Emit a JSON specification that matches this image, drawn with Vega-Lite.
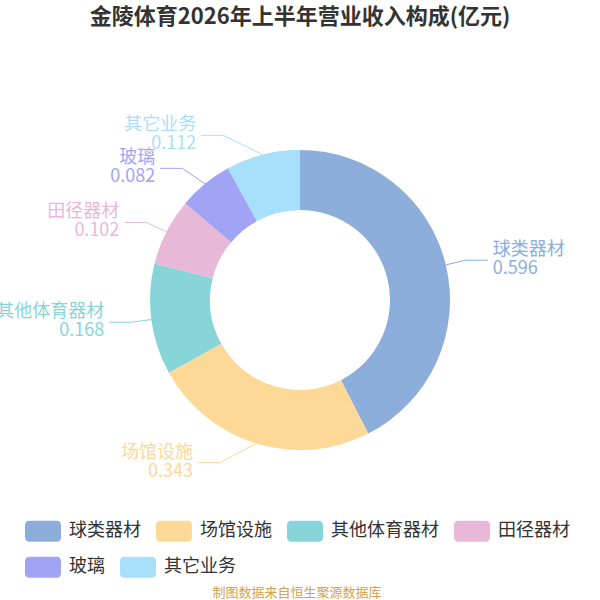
{
  "$schema": "https://vega.github.io/schema/vega-lite/v6.json",
  "width": 600,
  "height": 600,
  "padding": 0,
  "autosize": {"type": "none"},
  "background": "white",
  "title": {
    "text": "金陵体育2026年上半年营业收入构成(亿元)",
    "font": "Noto Sans CJK SC",
    "fontSize": 22,
    "fontWeight": "bold",
    "color": "#333333",
    "anchor": "middle",
    "offset": -29
  },
  "data": {
    "values": [
      {"name": "球类器材", "value": 0.596},
      {"name": "场馆设施", "value": 0.343},
      {"name": "其他体育器材", "value": 0.168},
      {"name": "田径器材", "value": 0.102},
      {"name": "玻璃", "value": 0.082},
      {"name": "其它业务", "value": 0.112}
    ]
  },
  "transform": [
    {"window": [{"op": "row_number", "as": "idx"}]},
    {"joinaggregate": [{"op": "sum", "field": "value", "as": "total"}]},
    {"stack": "value", "groupby": [], "sort": [{"field": "idx"}], "as": ["v0", "v1"]},
    {"calculate": "PI * (datum.v0 + datum.v1) / datum.total", "as": "a"},
    {"calculate": "sin(datum.a) >= 0 ? 1 : -1", "as": "s"},
    {"calculate": "150 * sin(datum.a)", "as": "ex"},
    {"calculate": "150 * cos(datum.a)", "as": "ey"},
    {"calculate": "170 * cos(datum.a)", "as": "by"},
    {"calculate": "datum.s * sqrt(192 * 192 - datum.by * datum.by)", "as": "hx"},
    {"calculate": "datum.hx - datum.s * 22", "as": "bx"},
    {"calculate": "datum.hx + datum.s * 5", "as": "tx"},
    {"calculate": "datum.name + '\\n' + format(datum.value, '.3f')", "as": "lab"}
  ],
  "encoding": {
    "color": {
      "field": "name",
      "type": "nominal",
      "scale": {
        "domain": ["球类器材", "场馆设施", "其他体育器材", "田径器材", "玻璃", "其它业务"],
        "range": ["#8daddb", "#fed897", "#87d5d9", "#e7b8d8", "#a1a4f5", "#a8dffa"]
      },
      "legend": {
        "values": ["球类器材", "场馆设施", "其他体育器材", "田径器材"],
        "orient": "none",
        "legendX": 25,
        "legendY": 513,
        "direction": "horizontal",
        "columns": 4,
        "columnPadding": 15,
        "rowPadding": 0,
        "padding": 0,
        "symbolType": "M-0.78,-0.58 H0.78 A0.22,0.22 0 0 1 1,-0.36 V0.36 A0.22,0.22 0 0 1 0.78,0.58 H-0.78 A0.22,0.22 0 0 1 -1,0.36 V-0.36 A0.22,0.22 0 0 1 -0.78,-0.58 Z",
        "symbolSize": 1296,
        "symbolStrokeWidth": 0,
        "symbolOpacity": 1,
        "labelOffset": 8,
        "labelFont": "Noto Sans CJK SC",
        "labelFontSize": 18,
        "labelColor": "#333333",
        "labelLimit": 0,
        "title": "制图数据来自恒生聚源数据库",
        "titleOrient": "bottom",
        "titleAnchor": "middle",
        "titlePadding": 45,
        "titleFont": "Noto Sans CJK SC",
        "titleFontSize": 13,
        "titleFontWeight": "normal",
        "titleColor": "#d4a24c"
      }
    }
  },
  "layer": [
    {
      "mark": {"type": "arc", "innerRadius": 90, "outerRadius": 150},
      "encoding": {
        "theta": {"field": "v1", "type": "quantitative", "scale": {"nice": false, "zero": true}},
        "theta2": {"field": "v0"}
      }
    },
    {
      "transform": [{"filter": "datum.idx > 4"}],
      "mark": {"type": "arc", "innerRadius": 90, "outerRadius": 150},
      "encoding": {
        "theta": {"field": "v1", "type": "quantitative", "scale": {"nice": false, "zero": true}},
        "theta2": {"field": "v0"},
        "fill": {
          "field": "name",
          "type": "nominal",
          "scale": {"domain": ["玻璃", "其它业务"], "range": ["#a1a4f5", "#a8dffa"]},
          "legend": {
            "orient": "none",
            "legendX": 25,
            "legendY": 549,
            "direction": "horizontal",
            "columns": 2,
            "columnPadding": 15,
            "padding": 0,
            "symbolType": "M-0.78,-0.58 H0.78 A0.22,0.22 0 0 1 1,-0.36 V0.36 A0.22,0.22 0 0 1 0.78,0.58 H-0.78 A0.22,0.22 0 0 1 -1,0.36 V-0.36 A0.22,0.22 0 0 1 -0.78,-0.58 Z",
            "symbolSize": 1296,
            "symbolStrokeWidth": 0,
            "symbolOpacity": 1,
            "labelOffset": 8,
            "labelFont": "Noto Sans CJK SC",
            "labelFontSize": 18,
            "labelColor": "#333333",
            "labelLimit": 0,
            "title": null
          }
        }
      }
    },
    {
      "mark": {"type": "rule", "strokeWidth": 1},
      "encoding": {
        "x": {"field": "ex", "type": "quantitative", "scale": {"domain": [-300, 300], "nice": false}, "axis": null},
        "y": {"field": "ey", "type": "quantitative", "scale": {"domain": [-300, 300], "nice": false}, "axis": null},
        "x2": {"field": "bx"},
        "y2": {"field": "by"}
      }
    },
    {
      "mark": {"type": "rule", "strokeWidth": 1},
      "encoding": {
        "x": {"field": "bx", "type": "quantitative", "scale": {"domain": [-300, 300], "nice": false}, "axis": null},
        "y": {"field": "by", "type": "quantitative", "scale": {"domain": [-300, 300], "nice": false}, "axis": null},
        "x2": {"field": "hx"}
      }
    },
    {
      "mark": {
        "type": "text",
        "font": "Noto Sans CJK SC",
        "fontSize": 18,
        "lineHeight": 19,
        "lineBreak": "\n",
        "baseline": "middle",
        "dy": -10,
        "align": {"expr": "datum.s > 0 ? 'left' : 'right'"}
      },
      "encoding": {
        "x": {"field": "tx", "type": "quantitative", "scale": {"domain": [-300, 300], "nice": false}, "axis": null},
        "y": {"field": "by", "type": "quantitative", "scale": {"domain": [-300, 300], "nice": false}, "axis": null},
        "text": {"field": "lab", "type": "nominal"}
      }
    }
  ],
  "config": {
    "view": {"stroke": null},
    "font": "Noto Sans CJK SC"
  }
}
